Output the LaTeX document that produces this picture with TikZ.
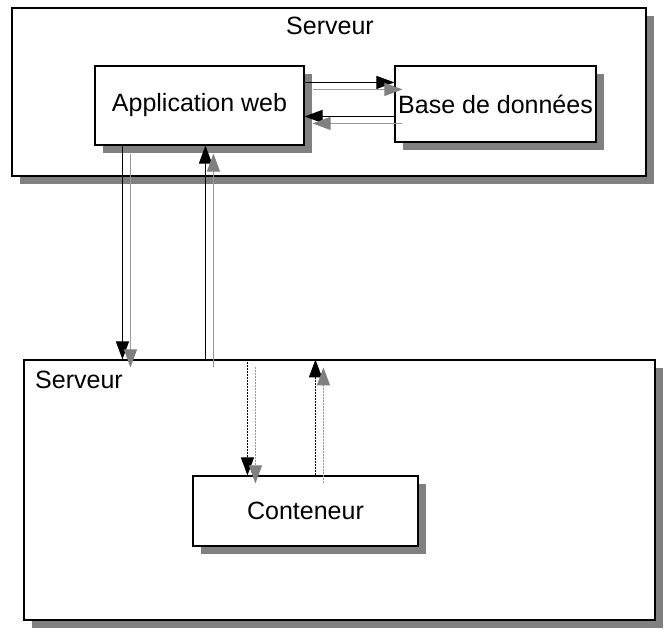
\documentclass[tikz,border=0pt]{standalone}
\usepackage{fontspec}
\setmainfont{Liberation Sans}
\usetikzlibrary{arrows.meta,shadows,calc}
\begin{document}
\begin{tikzpicture}[x=1pt,y=-1pt,
  box/.style={draw=black,line width=1.1pt,fill=white,inner sep=0pt,
    font=\fontsize{25}{29}\selectfont,
    drop shadow={shadow xshift=8pt,shadow yshift=-8pt,fill=black!50,opacity=1}},
  arr/.style={line width=1pt,-{Triangle[length=18pt,width=13pt]}},
  garr/.style={line width=1pt,draw=black!40,-{Triangle[length=18pt,width=13pt,color=black!50,fill=black!50]}},
  dot/.style={dash pattern=on 2pt off 1pt},
  lbl/.style={font=\fontsize{25}{29}\selectfont,inner sep=0pt}]
\useasboundingbox (0,0) rectangle (668,639);
\node[box,minimum width=634pt,minimum height=168pt] (srv1) at (329,92) {};
\node[lbl] (srv1l) at (330,26) {Serveur};
\node[box,minimum width=209pt,minimum height=79pt] (app) at (199.5,105.5) {Application web};
\node[box,minimum width=201pt,minimum height=76pt] (db) at (495.5,104) {Base de données};
\node[box,minimum width=631pt,minimum height=260pt] (srv2) at (339.5,490) {};
\node[lbl,anchor=west] (srv2l) at (35,380) {Serveur};
\node[box,minimum width=225pt,minimum height=70pt] (cont) at (305.5,511) {Conteneur};
% horizontal arrows
\draw[arr] ($(app.north east)+(0,17)$) -- ($(app.north east -| db.west)+(0,17)$);
\draw[garr] ($(app.north east)+(8,24)$) -- ($(app.north east -| db.west)+(8,24)$);
\draw[arr] ($(app.north east -| db.west)+(0,51)$) -- ($(app.north east)+(0,51)$);
\draw[garr] ($(app.north east -| db.west)+(8,58)$) -- ($(app.north east)+(8,58)$);
% vertical arrows between servers
\draw[arr] ($(app.south west)+(28,0)$) -- ($(app.south west |- srv2.north)+(28,0)$);
\draw[garr] ($(app.south west)+(36,8)$) -- ($(app.south west |- srv2.north)+(36,8)$);
\draw[arr] ($(app.south west |- srv2.north)+(111,0)$) -- ($(app.south west)+(111,0)$);
\draw[garr] ($(app.south west |- srv2.north)+(119,8)$) -- ($(app.south west)+(119,8)$);
% dotted arrows to container
\draw[arr,dot] ($(cont.north west |- srv2.north)+(55,0)$) -- ($(cont.north west)+(55,0)$);
\draw[garr,dot] ($(cont.north west |- srv2.north)+(63,8)$) -- ($(cont.north west)+(63,8)$);
\draw[arr,dot] ($(cont.north west)+(123,0)$) -- ($(cont.north west |- srv2.north)+(123,0)$);
\draw[garr,dot] ($(cont.north west)+(131,8)$) -- ($(cont.north west |- srv2.north)+(131,8)$);
\end{tikzpicture}
\end{document}
